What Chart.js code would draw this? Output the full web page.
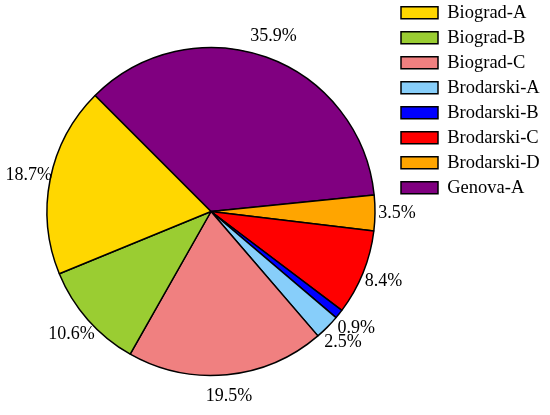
<!DOCTYPE html>
<html lang="en">
<head>
    <meta charset="UTF-8">
    <title>Pie</title>
    <script src="https://cdn.jsdelivr.net/npm/chart.js"></script>
    <style>
        body { margin: 0; background: #fff; }
    </style>
</head>
<body>
<canvas id="pie-chart" width="550" height="415"></canvas>

<script>
    // data, legend order
    const sites = ['Biograd-A', 'Biograd-B', 'Biograd-C', 'Brodarski-A', 'Brodarski-B', 'Brodarski-C', 'Brodarski-D', 'Genova-A'];
    const shares = [18.7, 10.6, 19.5, 2.5, 0.9, 8.4, 3.5, 35.9];
    const colors = ['#FFD700', '#9ACD32', '#F08080', '#87CEFA', '#0000FF', '#FF0000', '#FFA500', '#800080'];

    // slices run counter-clockwise in the picture, chart.js goes clockwise -> reverse
    const labelsRev = sites.slice().reverse();
    const sharesRev = shares.slice().reverse();
    const colorsRev = colors.slice().reverse();

    const percentLabels = {
        id: 'percentLabels',
        afterDatasetsDraw(chart) {
            const ctx = chart.ctx;
            const meta = chart.getDatasetMeta(0);
            ctx.save();
            ctx.font = '18px "Liberation Serif"';
            ctx.fillStyle = '#000';
            ctx.textAlign = 'center';
            ctx.textBaseline = 'middle';
            meta.data.forEach((arc, i) => {
                const mid = (arc.startAngle + arc.endAngle) / 2;
                const r = arc.outerRadius + 22;
                const x = arc.x + Math.cos(mid) * r;
                const y = arc.y + Math.sin(mid) * r;
                ctx.fillText(sharesRev[i].toFixed(1) + '%', x, y);
            });
            ctx.restore();
        }
    };

    // legend sits higher than the pie's top padding allows
    const liftLegend = {
        id: 'liftLegend',
        afterLayout(chart) {
            chart.legend.top -= 11;
            chart.legend.bottom -= 11;
        }
    };

    const pie = document.getElementById('pie-chart');

    const pieChart = new Chart(pie, {
        type: 'pie',
        data: {
            labels: labelsRev,
            datasets: [{
                data: sharesRev,
                backgroundColor: colorsRev,
                borderColor: '#000',
                borderWidth: 1.5,
                radius: 164
            }]
        },
        options: {
            responsive: false,
            animation: false,
            rotation: -45,
            layout: {
                padding: {left: 27.5, right: 3.5, top: 8, bottom: 0}
            },
            plugins: {
                tooltip: {enabled: false},
                legend: {
                    position: 'right',
                    align: 'start',
                    maxWidth: 152,
                    labels: {
                        boxWidth: 37,
                        boxHeight: 12,
                        padding: 6.5,
                        color: '#000',
                        font: {family: '"Liberation Serif"', size: 18.5},
                        sort: (a, b) => b.index - a.index
                    }
                }
            }
        },
        plugins: [percentLabels, liftLegend]
    });
</script>
</body>
</html>
